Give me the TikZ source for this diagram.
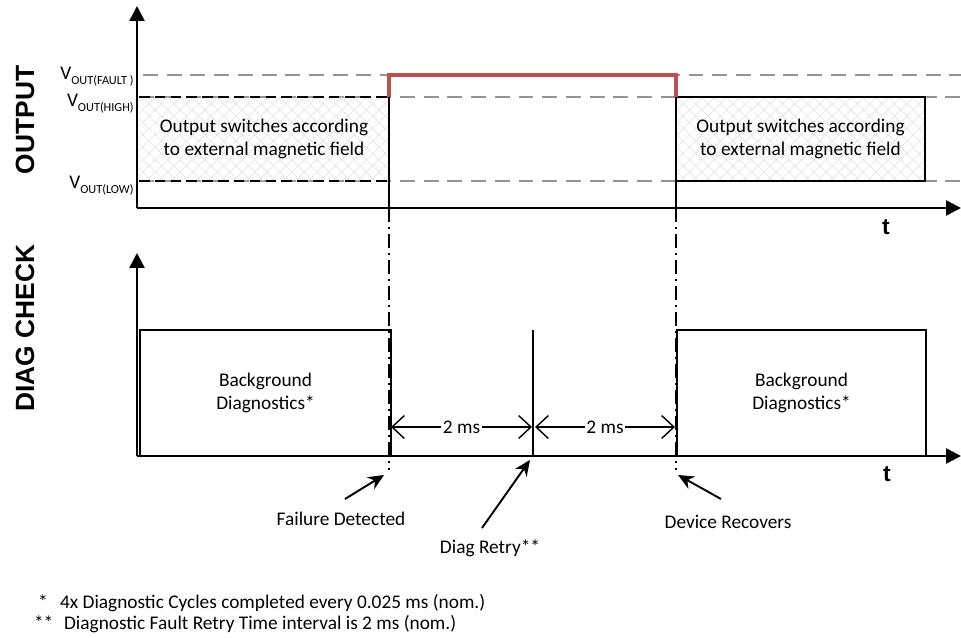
\documentclass[tikz,border=0pt]{standalone}
\usepackage{fontspec}
\setmainfont{Carlito}
\newfontfamily\headfont{Liberation Sans}
\usetikzlibrary{arrows.meta,patterns.meta}
\definecolor{faultRed}{HTML}{C0504D}
\colorlet{levelGray}{black!42}

\begin{document}
\begin{tikzpicture}[
        x=0.02cm, y=-0.02cm,
        axis/.style={line width=1.4pt, -{Triangle[length=8.5pt,width=8.5pt]}},
        level/.style={levelGray, line width=1.1pt, dash pattern=on 8.5pt off 5pt},
        edge/.style={line width=1.1pt},
        marker/.style={line width=0.9pt, dash pattern=on 8pt off 3pt on 0.8pt off 3pt},
        dim/.style={line width=0.8pt, {Straight Barb[length=7pt,width=13pt]}-{Straight Barb[length=7pt,width=13pt]}},
        pointer/.style={line width=1.1pt, -{Stealth[length=9pt,width=8pt]}},
        lbl/.style={font=\fontsize{11}{13}\selectfont, align=center, inner sep=1pt},
        vlbl/.style={font=\fontsize{11}{12}\selectfont, anchor=base east, inner sep=0pt},
        head/.style={font=\headfont\bfseries\fontsize{15}{16}\selectfont, rotate=90},
        tlbl/.style={font=\headfont\bfseries\fontsize{13}{14}\selectfont},
        hatch/.style={pattern={Hatch[angle=45,distance=5pt,line width=0.3pt]}, pattern color=gray!25}
    ]
        \useasboundingbox (0,0) rectangle (961,638);

        % Titulos de los paneles
        \node[head] (outHead) at (25,120) {OUTPUT};
        \node[head] (diagHead) at (25,328) {DIAG CHECK};

        % Niveles de salida (lineas grises discontinuas)
        \draw[level] (143,75) -- (961,75);
        \draw[level] (139,97) -- (961,97);
        \draw[level] (139,181) -- (961,181);
        \node[vlbl] (vFault) at (134,80) {V\raisebox{-0.45ex}{\fontsize{7}{8}\selectfont OUT(FAULT )}};
        \node[vlbl] (vHigh) at (134,107) {V\raisebox{-0.45ex}{\fontsize{7}{8}\selectfont OUT(HIGH)}};
        \node[vlbl] (vLow) at (134,189) {V\raisebox{-0.45ex}{\fontsize{7}{8}\selectfont OUT(LOW)}};

        % Ejes
        \coordinate (o1) at (137,208);
        \coordinate (o2) at (137,456);
        \draw[axis] (o1) -- (137,6);
        \draw[axis] (o1) -- (961,208);
        \draw[axis] (o2) -- (137,253);
        \draw[axis] (o2) -- (961,456);
        \node[tlbl] (tOut) at (886,227) {t};
        \node[tlbl] (tDiag) at (887,474) {t};

        % Bloques de salida
        \node[lbl, hatch, minimum width=5cm, minimum height=1.68cm, outer sep=0pt] (outA) at (264,139)
            {Output switches according\\to external magnetic field};
        \draw[edge, dash pattern=on 6pt off 3pt] (outA.north west) -- (outA.north east);
        \draw[edge, dash pattern=on 6pt off 3pt] (outA.south west) -- (outA.south east);
        \node[lbl, hatch, draw, edge, minimum width=4.98cm, minimum height=1.68cm, outer sep=0pt] (outB) at (800.5,139)
            {Output switches according\\to external magnetic field};

        % Salida en fallo
        \draw[faultRed, line width=1.9pt] (outA.north east) -- ++(0,-22) -| (outB.north west);

        % Bloques de diagnostico
        \node[lbl, draw, edge, minimum width=5.02cm, minimum height=2.52cm, outer sep=0pt] (bgA) at (265.5,393)
            {Background\\Diagnostics*};
        \node[lbl, draw, edge, minimum width=4.98cm, minimum height=2.52cm, outer sep=0pt] (bgB) at (801.5,393)
            {Background\\Diagnostics*};

        % Instantes de fallo, reintento y recuperacion
        \coordinate (failTop) at (389,97);
        \coordinate (failAx) at (389,208);
        \coordinate (failEnd) at (389,470);
        \coordinate (recAx) at (676,208);
        \coordinate (recEnd) at (676,470);
        \draw[edge] (failTop) -- (failAx);
        \draw[edge] (outB.south west) -- (recAx);
        \draw[marker] (failAx) -- (failEnd);
        \draw[marker] (recAx) -- (recEnd);
        \coordinate (retryTop) at (533,330);
        \coordinate (retryAx) at (533,456);
        \draw[line width=0.9pt] (retryTop) -- (retryAx);

        % Cotas de 2 ms
        \coordinate (dimA) at (391,427);
        \coordinate (dimB) at (532,427);
        \coordinate (dimC) at (535,427);
        \coordinate (dimD) at (675,427);
        \draw[dim] (dimA) -- node[lbl, fill=white, pos=0.5] (msA) {2 ms} (dimB);
        \draw[dim] (dimC) -- node[lbl, fill=white, pos=0.5] (msB) {2 ms} (dimD);

        % Rotulos con flechas
        \node[lbl] (failLbl) at (341,519) {Failure Detected};
        \node[lbl] (retryLbl) at (490,548) {Diag Retry**};
        \node[lbl] (recLbl) at (728,522) {Device Recovers};
        \coordinate (failTail) at (345,499);
        \coordinate (failTip) at (384,475);
        \coordinate (retryTail) at (482,528);
        \coordinate (retryTip) at (530,460);
        \coordinate (recTail) at (721,499);
        \coordinate (recTip) at (678,475);
        \draw[pointer] (failTail) -- (failTip);
        \draw[pointer] (retryTail) -- (retryTip);
        \draw[pointer] (recTail) -- (recTip);

        % Notas al pie
        \node[lbl, anchor=base west] (starA) at (36,609) {*};
        \node[lbl, anchor=base west] (noteA) at (58,609) {4x Diagnostic Cycles completed every 0.025 ms (nom.)};
        \node[lbl, anchor=base west] (starB) at (32,630) {**};
        \node[lbl, anchor=base west] (noteB) at (62,630) {Diagnostic Fault Retry Time interval is 2 ms (nom.)};
    \end{tikzpicture}
\end{document}
